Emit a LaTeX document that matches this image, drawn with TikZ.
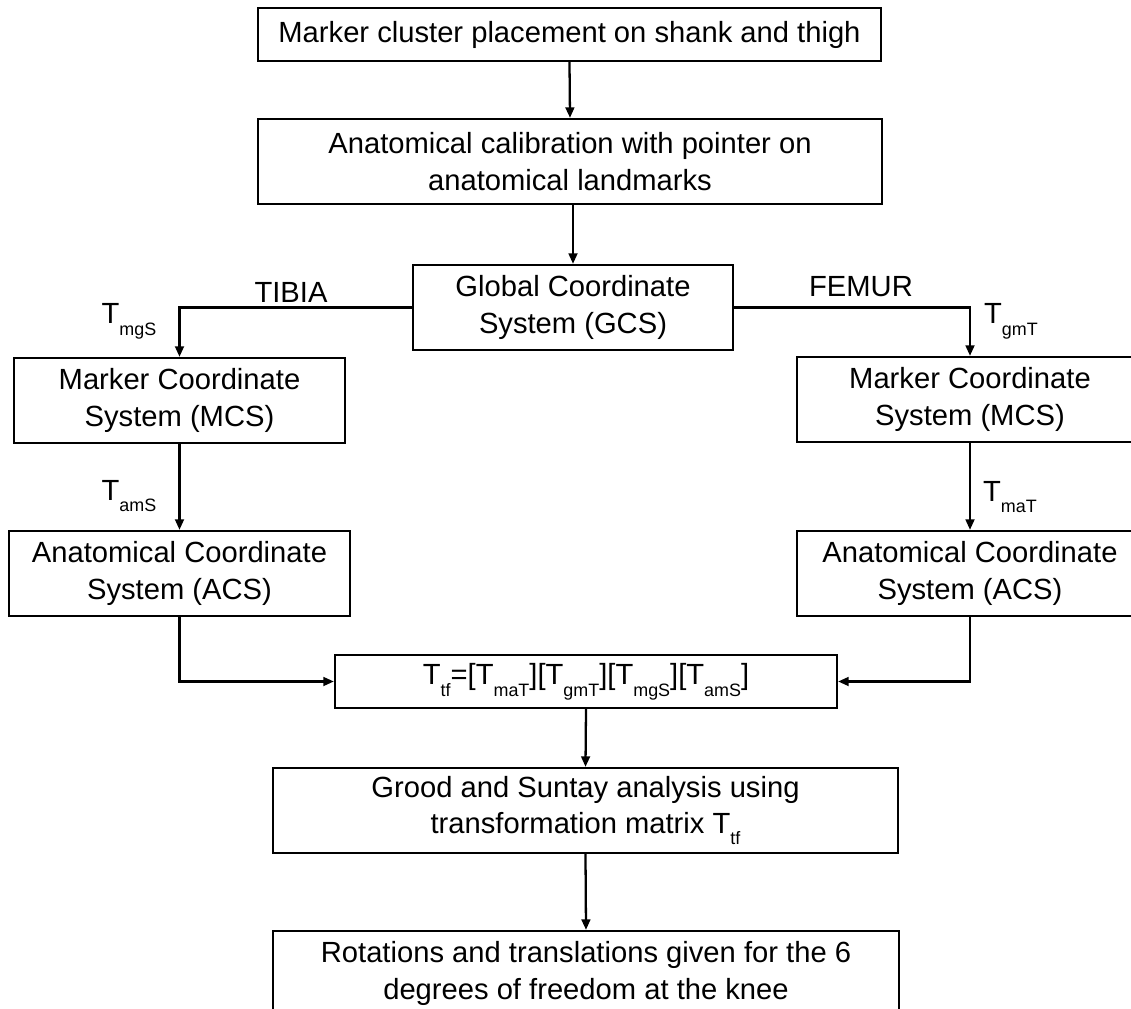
\documentclass[tikz,border=0pt]{standalone}
\usepackage{fontspec}
\setmainfont{Liberation Sans}
\usepackage{tikz}
\usetikzlibrary{arrows.meta}

\newcommand{\Tsub}[1]{T\raisebox{-0.4em}{\fontsize{10.2}{12}\selectfont #1}}

\begin{document}
\begin{tikzpicture}[
    stage/.style={rectangle, draw=black, line width=1.3pt, align=center, inner sep=2pt,
                  font=\fontsize{16.6}{20.6}\selectfont, minimum height=1.70cm},
    flat/.style={stage, minimum height=1.06cm},
    link/.style={line width=1.3pt, -{Triangle[length=6pt,width=5pt]}},
    bone/.style={font=\fontsize{16.6}{20.6}\selectfont},
]
    \useasboundingbox (0,0) rectangle (22.62,-20.18);
    \clip (0,0) rectangle (22.62,-20.18);

    % Calibration steps
    \node[flat, minimum width=12.46cm] (cluster) at (11.39,-0.69) {Marker cluster placement on shank and thigh};
    \node[stage, minimum width=12.48cm] (calib) at (11.40,-3.23) {Anatomical calibration with pointer on\\anatomical landmarks};
    \node[stage, minimum width=6.40cm] (gcs) at (11.46,-6.15) {Global Coordinate\\System (GCS)};

    % Tibia side
    \node[stage, minimum width=6.62cm] (mcsTib) at (3.59,-8.01) {Marker Coordinate\\System (MCS)};
    \node[stage, minimum width=6.82cm] (acsTib) at (3.59,-11.47) {Anatomical Coordinate\\System (ACS)};

    % Femur side
    \node[stage, minimum width=6.92cm] (mcsFem) at (19.40,-7.99) {Marker Coordinate\\System (MCS)};
    \node[stage, minimum width=6.92cm] (acsFem) at (19.40,-11.47) {Anatomical Coordinate\\System (ACS)};

    % Combined transform and analysis
    \node[flat, minimum width=10.04cm] (ttf) at (11.72,-13.63) {\Tsub{tf}=[\Tsub{maT}][\Tsub{gmT}][\Tsub{mgS}][\Tsub{amS}]};
    \node[stage, minimum width=12.50cm] (grood) at (11.71,-16.21) {Grood and Suntay analysis using\\transformation matrix \Tsub{tf}};
    \node[stage, minimum width=12.52cm] (dof) at (11.72,-19.47) {Rotations and translations given for the 6\\degrees of freedom at the knee};

    % Arrows
    \draw[link] (cluster.south) -- (calib.north);
    \draw[link] (gcs.north |- calib.south) -- (gcs.north);
    \draw[link] (gcs.west) -| (mcsTib.north);
    \draw[link] (gcs.east) -| (mcsFem.north);
    \draw[link] (mcsTib) -- (acsTib);
    \draw[link] (mcsFem) -- (acsFem);
    \draw[link] (acsTib.south) |- (ttf.west);
    \draw[link] (acsFem.south) |- (ttf.east);
    \draw[link] (ttf.south) -- (grood.north);
    \draw[link] (grood.south) -- (dof.north);

    % Labels
    \node[bone] (tibia) at (5.82,-5.84) {TIBIA};
    \node[bone] (femur) at (17.22,-5.74) {FEMUR};
    \node[bone] (tmgs) at (2.58,-6.42) {\Tsub{mgS}};
    \node[bone] (tgmt) at (20.22,-6.42) {\Tsub{gmT}};
    \node[bone] (tams) at (2.58,-9.92) {\Tsub{amS}};
    \node[bone] (tmat) at (20.20,-9.94) {\Tsub{maT}};
\end{tikzpicture}
\end{document}
